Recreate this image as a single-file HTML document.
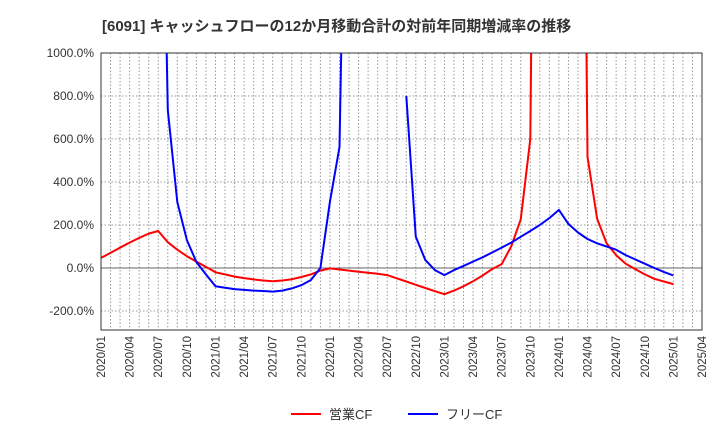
<!DOCTYPE html>
<html><head><meta charset="utf-8"><style>
body{margin:0;background:#fff;font-family:"Liberation Sans","Noto Sans CJK JP",sans-serif}
</style></head><body>
<svg id="c" width="720" height="440" xmlns="http://www.w3.org/2000/svg">
<text x="102" y="31" font-size="15" font-weight="bold" fill="#333">[6091]  キャッシュフローの12か月移動合計の対前年同期増減率の推移</text>
<defs><clipPath id="clip"><rect x="101" y="53" width="601" height="277"/></clipPath></defs>
<g id="grid"></g><g id="series" clip-path="url(#clip)"></g><g id="axes"></g>
<g>
<line x1="291" y1="414" x2="321" y2="414" stroke="#f00" stroke-width="2"/>
<text x="329" y="419" font-size="13" fill="#333">営業CF</text>
<line x1="408" y1="414" x2="438" y2="414" stroke="#00f" stroke-width="2"/>
<text x="446" y="419" font-size="13" fill="#333">フリーCF</text>
</g>
</svg>
<script>
const yTicks=[1000,800,600,400,200,0,-200];
const xLabels=["2020/01","2020/04","2020/07","2020/10","2021/01","2021/04","2021/07","2021/10","2022/01","2022/04","2022/07","2022/10","2023/01","2023/04","2023/07","2023/10","2024/01","2024/04","2024/07","2024/10","2025/01","2025/04"];
const operatingCF=[47,70,95,118,140,160,172,120,85,55,30,5,-20,-30,-40,-47,-53,-58,-62,-58,-52,-42,-30,-12,-2,-7,-12,-17,-22,-27,-33,-48,-63,-78,-93,-108,-122,-105,-85,-62,-35,-5,18,100,225,600,5000,5000,5000,5000,5000,517,230,115,60,20,-5,-30,-50,-63,-75];
const freeCF=[null,null,null,null,null,null,3000,735,307,130,28,-30,-85,-92,-98,-102,-105,-107,-110,-105,-95,-80,-56,0,310,563,3000,null,null,null,null,null,800,145,37,-10,-33,-10,10,30,50,72,95,118,145,172,200,232,270,205,165,135,115,100,85,60,40,20,0,-18,-35];
const X0=101,X1=702,Y0=53,Y1=330,NM=63;
const xs=m=>X0+(X1-X0)*m/NM;
const ys=v=>268-v*43/200;
const NS="http://www.w3.org/2000/svg";
function mk(t,a,p){const e=document.createElementNS(NS,t);for(const k in a)e.setAttribute(k,a[k]);p.appendChild(e);return e;}
const grid=document.getElementById('grid'),axes=document.getElementById('axes'),ser=document.getElementById('series');
for(let m=1;m<NM;m++){const l=mk('line',{x1:xs(m),x2:xs(m),y1:Y0,y2:Y1,stroke:'#999','stroke-width':1,'stroke-dasharray':'1.5,2'},grid);

}
yTicks.forEach(v=>{const y=ys(v);const l=mk('line',{x1:X0,x2:X1,y1:y,y2:y,stroke:v===0?'#666':'#999','stroke-width':1,'stroke-dasharray':v===0?'':'1.5,2'},grid);


const t=mk('text',{x:X0-7,y:y+4,'font-size':12,fill:'#333','text-anchor':'end'},axes);t.textContent=v.toFixed(1)+'%';

});
xLabels.forEach((s,i)=>{const x=xs(i*3);const t=mk('text',{x:0,y:0,'font-size':11.5,fill:'#333','text-anchor':'end',transform:`translate(${x+4},${Y1+6}) rotate(-90)`},axes);t.textContent=s;

});
const fr=mk('rect',{x:X0,y:Y0,width:X1-X0,height:Y1-Y0,fill:'none',stroke:'#333','stroke-width':1},axes);


function draw(arr,col,name){let segs=[],cur=[];arr.forEach((v,i)=>{if(v===null){if(cur.length)segs.push(cur);cur=[];}else cur.push(xs(i).toFixed(1)+','+ys(v).toFixed(1));});if(cur.length)segs.push(cur);
segs.forEach(s=>{const p=mk('polyline',{points:s.join(' '),fill:'none',stroke:col,'stroke-width':2,'stroke-linejoin':'round'},ser);

});}
draw(operatingCF,'#f00','operating-cf-line');
draw(freeCF,'#00f','free-cf-line');
</script>
</body></html>
